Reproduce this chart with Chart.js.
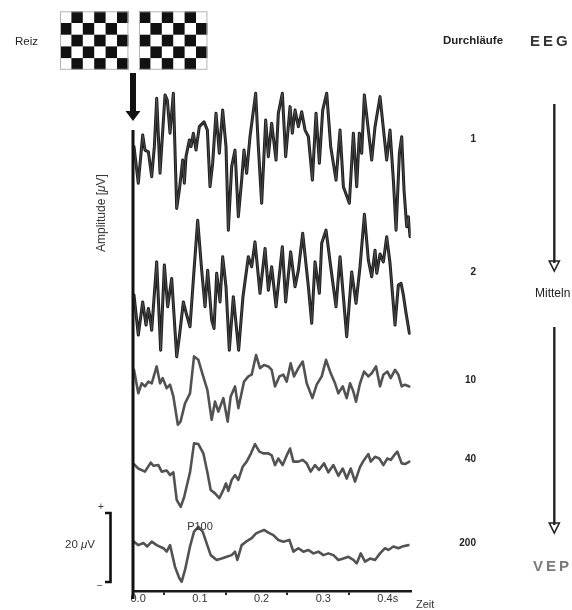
<!DOCTYPE html>
<html>
<head>
<meta charset="utf-8">
<script src="https://cdn.jsdelivr.net/npm/chart.js@4"></script>
<style>
  body { margin: 0; background: #fff; }
  #wrap { position: relative; width: 572px; height: 610px; overflow: hidden; }
  #vep { position: absolute; left: 0; top: 0; }
  .lbl { position: absolute; font-family: "Liberation Sans", Arial, sans-serif; color: #222; white-space: nowrap; line-height: 1; }
  .lc { transform: translate(0, -50%); }
  .cc { transform: translate(-50%, -50%); }
  .rc { transform: translate(-100%, -50%); }
</style>
</head>
<body>
<div id="wrap">
  <canvas id="vep" width="572" height="610"></canvas>
  <div class="lbl lc" style="left:15px;top:42px;font-size:11.5px">Reiz</div>
  <div class="lbl lc" style="left:443px;top:41px;font-size:11.5px;font-weight:bold">Durchläufe</div>
  <div class="lbl lc" style="left:530px;top:39.5px;font-size:15px;font-weight:bold;letter-spacing:3px;color:#333">EEG</div>
  <div class="lbl lc" style="left:535px;top:293px;font-size:12px">Mitteln</div>
  <div class="lbl lc" style="left:533px;top:565px;font-size:15px;font-weight:bold;letter-spacing:3px;color:#7a7a7a">VEP</div>
  <div class="lbl rc" id="n0" style="left:476px;top:139px;font-size:10px;font-weight:bold"></div>
  <div class="lbl rc" id="n1" style="left:476px;top:272px;font-size:10px;font-weight:bold"></div>
  <div class="lbl rc" id="n2" style="left:476px;top:380px;font-size:10px;font-weight:bold"></div>
  <div class="lbl rc" id="n3" style="left:476px;top:459px;font-size:10px;font-weight:bold"></div>
  <div class="lbl rc" id="n4" style="left:476px;top:543px;font-size:10px;font-weight:bold"></div>
  <div class="lbl lc" style="left:65px;top:545px;font-size:11.5px;color:#333">20 <i>μ</i>V</div>
  <div class="lbl cc" style="left:101px;top:507px;font-size:10px;color:#333">+</div>
  <div class="lbl cc" style="left:100px;top:586px;font-size:10px;color:#333">−</div>
  <div class="lbl cc" style="left:101px;top:213px;font-size:12px;color:#333;transform:translate(-50%,-50%) rotate(-90deg)">Amplitude [<i>μ</i>V]</div>
  <div class="lbl lc" style="left:416px;top:604px;font-size:11px;color:#333">Zeit</div>
  <div class="lbl cc" style="left:200px;top:526px;font-size:11px;color:#333">P100</div>
</div>
<script>
// number of averaged sweeps per row
const runCounts = ['1', '2', '10', '40', '200'];
// baseline of each row above the time axis, in µV of the plot scale
const traceOffsets = [128.7, 85.2, 64.1, 36.8, 14.2];
const xTickLabels = ['0.0', '0.1', '0.2', '0.3', '0.4s'];

// 1 sweep
const run1Ms = [1.6, 8.6, 15.7, 19.4, 24.9, 30.3, 34.6, 38.4, 43.8, 51.9, 55.6, 60.0, 65.4, 70.8, 75.1, 80.5, 83.2, 85.9, 91.3, 94.0,
  97.8, 102.1, 107.5, 115.1, 120.5, 124.8, 129.1, 134.5, 139.9, 145.3, 150.7, 154.5, 159.9, 165.3, 170.7, 176.1, 179.9, 184.2, 189.6, 198.8,
  203.1, 208.5, 215.0, 219.3, 224.7, 231.8, 235.5, 242.0, 247.4, 254.5, 258.2, 262.6, 268.0, 273.4, 278.8, 284.2, 290.7, 296.6, 302.0, 307.4,
  313.9, 320.4, 329.0, 335.5, 340.9, 350.6, 357.1, 362.5, 366.8, 370.6, 374.9, 381.4, 386.8, 392.2, 400.3, 411.1, 416.5, 421.9, 426.3, 431.7,
  435.4, 439.2, 443.5, 446.2, 448.9];
const run1Uv = [0.1, -10.5, 3.5, -0.9, -1.4, -8.6, 0.1, 14.1, -7.6, 15.1, 13.6, 4.0, 15.6, -17.8, -12.5, -3.8, -10.5, -2.8, 2.0, 0.1,
  4.0, -0.9, 5.9, 7.3, 4.9, -11.5, -4.7, 9.8, -1.8, 10.7, 0.1, -24.1, -5.7, -0.9, -20.2, -9.6, -0.9, -7.6, 3.0, 15.6,
  0.1, -16.3, 7.8, -2.8, 6.9, -3.8, 9.8, 15.6, -2.8, 11.7, 4.0, 10.7, 5.9, 10.2, 4.9, 3.0, -9.6, 9.8, -4.7, 10.7,
  15.6, 0.1, -9.6, 4.9, -11.5, -16.3, 4.0, -11.5, 4.0, -1.8, 15.1, 4.9, -3.8, 5.9, 14.6, -3.8, 4.9, -9.6, -24.1, -1.8,
  3.0, -12.5, -23.1, -20.2, -26.0];

// 2 sweeps
const run2Ms = [1.6, 8.6, 15.7, 21.1, 24.9, 27.5, 30.3, 38.4, 44.8, 50.8, 56.2, 62.7, 70.8, 75.1, 81.6, 87.0, 92.4, 98.9, 104.8, 111.3,
  116.7, 121.0, 127.5, 131.3, 135.6, 141.0, 145.3, 150.7, 156.1, 162.6, 171.2, 178.2, 186.9, 192.3, 197.7, 205.8, 214.0, 219.3, 224.7, 231.8,
  242.0, 247.4, 255.5, 262.6, 268.0, 275.0, 284.2, 289.6, 295.0, 302.0, 305.8, 312.8, 320.4, 329.0, 335.5, 340.9, 346.3, 354.4, 361.4, 367.9,
  375.0, 381.4, 386.8, 392.2, 395.0, 400.3, 405.7, 411.1, 416.5, 424.6, 430.0, 434.4, 438.1, 442.5, 447.9];
const run2Uv = [0.6, -11.0, -1.4, -8.1, -3.3, -5.7, -9.6, 10.2, -15.4, 9.3, -2.8, 5.4, -17.3, -11.5, -1.4, -5.2, -8.6, 7.8, 22.3, 7.8,
  -2.8, 7.8, -6.7, -9.1, 6.9, -1.4, 11.7, 3.0, -15.4, 0.1, -15.4, 0.1, 11.7, 8.8, 16.0, 1.1, 14.1, 2.0, 8.8, -2.8,
  14.6, -1.4, 13.1, 3.0, 7.8, 18.5, 3.0, -7.6, 10.2, 1.1, 15.6, 19.4, 8.8, -2.8, 11.7, 0.1, -11.5, 7.3, -1.8, 8.8,
  24.0, 10.7, 5.9, 13.6, 6.9, 12.5, 10.2, 17.5, 9.8, -8.1, 3.5, 4.0, 0.6, -4.7, -10.5];

// 10 sweeps
const run10Ms = [1.6, 8.6, 14.0, 19.4, 24.9, 30.3, 38.4, 43.8, 48.1, 54.6, 60.0, 65.4, 72.7, 77.0, 84.3, 92.4, 98.9, 105.9, 112.9, 120.5,
  127.5, 132.9, 138.3, 146.4, 153.4, 158.3, 165.3, 170.7, 179.9, 186.9, 192.3, 199.4, 205.8, 212.3, 219.3, 224.7, 230.1, 237.2, 243.6, 249.1,
  255.5, 260.9, 268.0, 275.0, 281.5, 290.7, 297.7, 305.8, 312.8, 320.4, 327.4, 332.8, 339.9, 346.3, 351.7, 357.1, 361.4, 367.9, 374.4, 381.4,
  386.8, 393.8, 400.3, 405.7, 412.2, 417.6, 424.6, 430.0, 435.4, 440.8, 447.9];
const run10Uv = [0, -6.8, -3.9, -4.8, -3.4, -3.9, 1.0, -3.9, -2.4, -5.3, -4.3, -7.7, -15.9, -15.0, -9.7, -6.8, 3.9, 2.9, -1.4, -5.8,
  -14.5, -9.2, -12.1, -8.2, -15.0, -7.7, -4.8, -11.1, -3.4, -1.9, -1.4, 4.3, 0.5, 1.4, 1.0, 0, -4.8, -1.9, -1.4, -3.4,
  1.9, -1.9, 0.5, 2.4, -3.9, -8.2, -4.3, -1.9, 2.9, -1.0, -3.9, -6.8, -4.8, -8.2, -3.9, -6.3, -9.2, -3.9, -0.5, -1.9,
  -1.0, 1.0, -4.8, -1.4, -0.5, -2.4, 0, -1.4, -4.8, -4.3, -4.8];

// 40 sweeps
const run40Ms = [1.6, 8.6, 19.4, 28.7, 33.0, 41.1, 46.5, 54.6, 60.0, 65.4, 70.8, 77.3, 82.7, 92.4, 98.9, 105.9, 114.0, 120.5, 125.9, 132.9,
  139.9, 146.4, 150.7, 154.5, 159.9, 165.3, 170.7, 177.7, 184.2, 191.2, 197.7, 204.8, 211.2, 219.3, 224.7, 230.1, 235.5, 242.5, 249.1, 254.5,
  259.9, 268.0, 275.0, 281.5, 287.9, 295.0, 301.5, 309.6, 316.6, 324.7, 332.8, 339.9, 346.3, 352.8, 359.8, 367.9, 374.4, 381.4, 385.2, 392.2,
  399.2, 405.7, 412.2, 417.6, 423.0, 428.4, 435.4, 440.8, 447.9];
const run40Uv = [0, -1.3, -2.2, 0.4, -0.5, -0.3, -2.2, -1.9, -3.2, -2.4, -10.4, -12.4, -9.7, -2.4, 6.0, 5.8, 3.1, -2.4, -7.5, -8.5,
  -9.9, -7.5, -5.6, -7.8, -4.6, -3.2, -4.6, -0.8, 0.7, 3.1, 5.8, 3.6, 3.1, 3.1, 2.5, -0.3, 1.6, -0.3, 2.5, 4.5,
  0.7, 0.7, 1.2, 0.2, -2.2, -0.3, -1.7, 0.2, -2.4, -0.3, -3.4, -1.3, -4.2, -1.3, -5.1, -0.8, 1.2, 2.9, 0.7, 2.1,
  1.6, -0.3, 1.6, 1.2, 2.5, 3.6, 0.2, 0, 0.7];

// 200 sweeps (VEP)
const run200Ms = [1.6, 8.6, 16.8, 23.2, 30.3, 38.4, 49.2, 54.6, 60.0, 68.1, 75.1, 78.9, 84.3, 92.4, 98.9, 105.9, 112.9, 119.4, 125.9, 135.6,
  143.7, 151.8, 159.9, 165.3, 169.1, 176.1, 183.2, 192.3, 199.4, 205.8, 212.3, 219.3, 227.4, 235.5, 243.6, 253.4, 259.9, 268.0, 276.1, 284.2,
  292.3, 300.4, 308.5, 316.6, 324.7, 332.8, 340.9, 349.0, 357.1, 362.5, 369.0, 376.0, 384.1, 392.2, 400.3, 408.4, 413.8, 421.9, 430.0, 438.1,
  446.2];
const run200Uv = [0.1, -0.9, -0.3, -1.3, 0.1, -0.9, -1.8, -2.8, -0.9, -7.2, -10.5, -11.5, -8.1, -1.3, 3.0, 4.4, 3.0, -0.4, -3.8, -5.2,
  -4.8, -4.3, -3.8, -2.8, -5.2, -0.9, 0.1, 1.1, 2.5, 3.0, 3.5, 2.7, 2.0, 0.6, 0.1, 0.6, -2.8, -1.8, -2.8, -2.3,
  -3.3, -2.8, -3.8, -3.3, -3.8, -5.2, -4.8, -4.3, -5.2, -6.2, -3.3, -5.7, -4.8, -5.2, -3.3, -1.8, -2.3, -1.3, -1.8, -1.2,
  -0.9];

// calibration bar and y-axis extent, in plot µV
const scaleBarUv = 20;
const scaleBarFrom = 2.6;
const axisTopUv = 133.6;

const traces = [
  { ms: run1Ms, uv: run1Uv },
  { ms: run2Ms, uv: run2Uv },
  { ms: run10Ms, uv: run10Uv },
  { ms: run40Ms, uv: run40Uv },
  { ms: run200Ms, uv: run200Uv }
];

runCounts.forEach((n, i) => { document.getElementById('n' + i).textContent = n; });

const datasets = [];
traces.forEach((tr, i) => {
  const pts = tr.ms.map((t, k) => ({ x: t / 1000, y: tr.uv[k] + traceOffsets[i] }));
  const raw = i < 2;
  datasets.push({
    label: runCounts[i],
    data: pts,
    borderColor: raw ? '#1c1c1c' : '#525252',
    borderWidth: raw ? 3 : 2.6,
    pointRadius: 0,
    tension: 0,
    borderJoinStyle: 'round',
    order: 1
  });
  if (raw) {
    // faint lighter core seen inside the raw sweeps
    datasets.push({
      label: runCounts[i] + ' core',
      data: pts,
      borderColor: '#6a6a6a',
      borderWidth: 0.6,
      pointRadius: 0,
      tension: 0,
      order: 0
    });
  }
});

function drawBoard(ctx, x0, y0, invert) {
  const cw = 11.4, ch = 11.7;
  ctx.fillStyle = '#fff';
  ctx.fillRect(x0, y0, cw * 6, ch * 5);
  ctx.fillStyle = '#111';
  for (let r = 0; r < 5; r++) {
    for (let c = 0; c < 6; c++) {
      const dark = ((r + c) % 2 === 1) !== invert;
      if (dark) ctx.fillRect(x0 + c * cw, y0 + r * ch, cw, ch);
    }
  }
  ctx.strokeStyle = '#b5b5b5';
  ctx.lineWidth = 1;
  ctx.strokeRect(x0 + 0.5, y0 + 0.5, cw * 6 - 1, ch * 5 - 1);
}

function downArrow(ctx, x, y0, y1) {
  ctx.strokeStyle = '#222';
  ctx.lineWidth = 2.4;
  ctx.beginPath();
  ctx.moveTo(x, y0);
  ctx.lineTo(x, y1 - 8);
  ctx.stroke();
  ctx.lineWidth = 1.6;
  ctx.lineJoin = 'miter';
  ctx.beginPath();
  ctx.moveTo(x - 5, y1 - 10);
  ctx.lineTo(x + 5, y1 - 10);
  ctx.lineTo(x, y1);
  ctx.closePath();
  ctx.stroke();
}

const decor = {
  id: 'decor',
  afterDraw(chart) {
    const { ctx, scales: { x, y } } = chart;
    const x0 = x.getPixelForValue(0);
    ctx.save();

    drawBoard(ctx, 60, 11.3, false);
    drawBoard(ctx, 139, 11.3, true);

    // stimulus onset arrow
    ctx.fillStyle = '#111';
    ctx.fillRect(x0 - 3, 73, 6, 40);
    ctx.beginPath();
    ctx.moveTo(x0 - 7.5, 111);
    ctx.lineTo(x0 + 7.5, 111);
    ctx.lineTo(x0, 121);
    ctx.closePath();
    ctx.fill();

    // amplitude axis
    ctx.strokeStyle = '#111';
    ctx.lineWidth = 3;
    ctx.beginPath();
    ctx.moveTo(x0, y.getPixelForValue(axisTopUv));
    ctx.lineTo(x0, y.getPixelForValue(0) + 8);
    ctx.stroke();

    // 20 µV calibration bracket
    const yb = y.getPixelForValue(scaleBarFrom);
    const yt = y.getPixelForValue(scaleBarFrom + scaleBarUv);
    ctx.lineWidth = 2.6;
    ctx.lineJoin = 'miter';
    ctx.beginPath();
    ctx.moveTo(105, yt);
    ctx.lineTo(110.5, yt);
    ctx.lineTo(110.5, yb);
    ctx.lineTo(105, yb);
    ctx.stroke();

    // averaging arrows on the right
    downArrow(ctx, 554.3, 104, 271);
    downArrow(ctx, 554.3, 327, 533);

    ctx.restore();
  }
};

new Chart(document.getElementById('vep'), {
  type: 'line',
  data: { datasets },
  options: {
    responsive: false,
    animation: false,
    devicePixelRatio: 1,
    layout: { padding: { left: 133, right: 161.3, top: 88, bottom: 0 } },
    plugins: { legend: { display: false }, tooltip: { enabled: false } },
    elements: { line: { borderCapStyle: 'round' } },
    scales: {
      x: {
        type: 'linear',
        min: 0,
        max: 0.45,
        afterFit: (scale) => { scale.height = 19; },
        border: { display: true, color: '#1a1a1a', width: 2.5 },
        grid: {
          drawOnChartArea: false,
          drawTicks: true,
          tickLength: 4,
          lineWidth: 2,
          color: (c) => {
            const k = Math.round(c.tick.value / 0.05);
            return (k % 2 === 1 && k < 9) ? '#222' : 'rgba(0,0,0,0)';
          }
        },
        ticks: {
          stepSize: 0.05,
          autoSkip: false,
          maxRotation: 0,
          align: 'start',
          labelOffset: -2.5,
          padding: -3,
          color: '#333',
          font: { family: '"Liberation Sans", Arial, sans-serif', size: 11 },
          callback: (v) => {
            const k = Math.round(v / 0.05);
            return k % 2 === 0 && k / 2 < xTickLabels.length ? xTickLabels[k / 2] : '';
          }
        }
      },
      y: {
        type: 'linear',
        display: false,
        min: 0,
        max: 145.8
      }
    }
  },
  plugins: [decor]
});
</script>
</body>
</html>
